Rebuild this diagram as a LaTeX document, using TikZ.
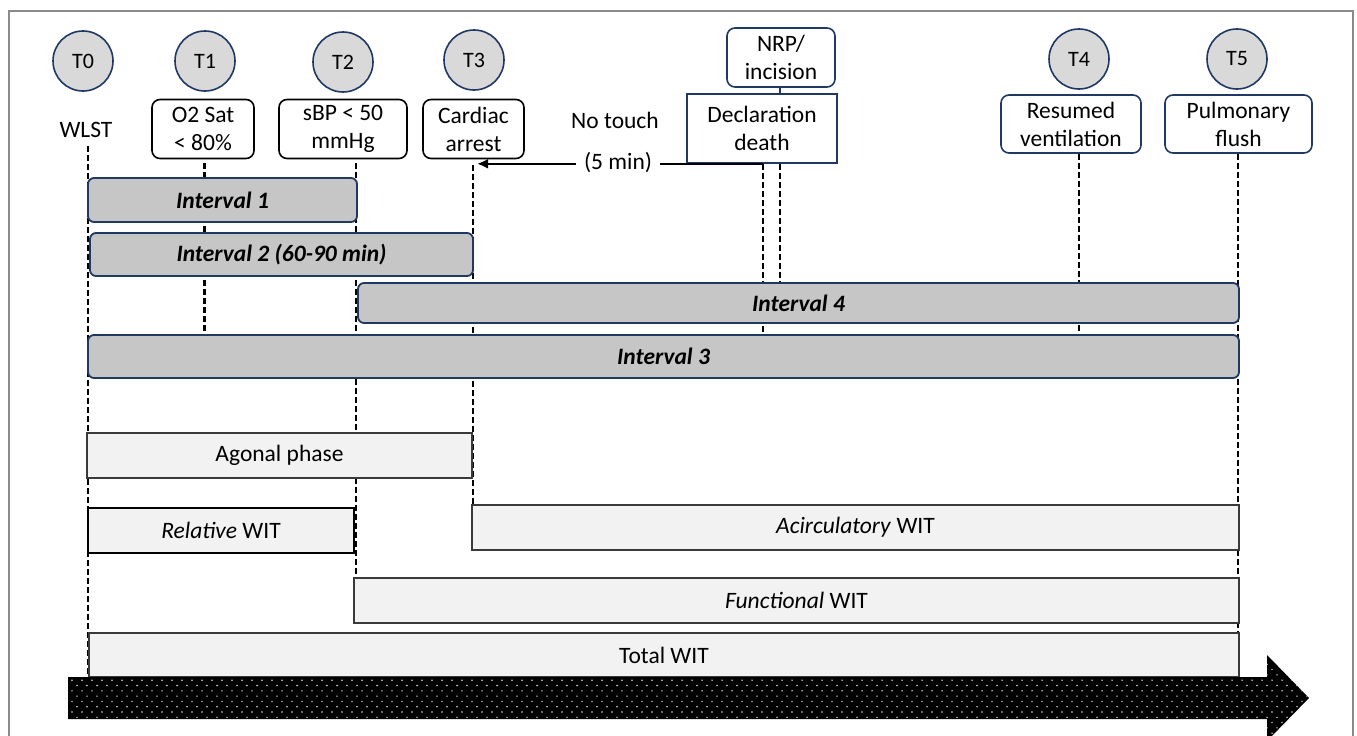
\documentclass[tikz,border=0pt]{standalone}
\usepackage{fontspec}
\setmainfont{Carlito}
\usetikzlibrary{arrows.meta,calc}
\definecolor{navy}{HTML}{1F3864}
\definecolor{circgray}{HTML}{D9D9D9}
\definecolor{intgray}{HTML}{C6C6C6}
\definecolor{witfill}{HTML}{F2F2F2}
\definecolor{witline}{HTML}{3A3A3A}
\definecolor{framec}{HTML}{8A8A8A}
\newcommand\mainfs{\fontsize{23.5}{28}\selectfont}
\begin{document}
\begin{tikzpicture}[x=1pt,y=-1pt,
  tcirc/.style={circle,draw=navy,fill=circgray,line width=1.6pt,minimum size=60pt,inner sep=0pt,font=\fontsize{22}{24}\selectfont},
  evbox/.style={rectangle,rounded corners=8pt,draw=black,line width=1.6pt,fill=white,inner sep=0pt,align=center,font=\mainfs},
  navybox/.style={evbox,draw=navy},
  intbox/.style={rectangle,rounded corners=6pt,draw=navy,line width=1.8pt,fill=intgray,inner sep=0pt,font=\mainfs\bfseries\itshape},
  witbox/.style={rectangle,draw=witline,line width=1.3pt,fill=witfill,inner sep=0pt,font=\mainfs},
  tdash/.style={line width=2.4pt,dash pattern=on 6pt off 3pt},
  plain/.style={inner sep=0pt,font=\mainfs,align=center}]
\useasboundingbox (0,0) rectangle (1357,736);
\fill[white] (0,0) rectangle (1357,736);
\draw[framec,line width=1.5pt] (9,745) -- (9,11) -- (1353,11) -- (1353,745);

% x positions of the time lines
\coordinate (x0) at (88,0);
\coordinate (x1) at (204.5,0);
\coordinate (x2) at (356,0);
\coordinate (x3) at (473,0);
\coordinate (xd) at (763,0);
\coordinate (xn) at (780,0);
\coordinate (x4) at (1079,0);
\coordinate (x5) at (1238,0);

% time point circles
\node[tcirc] (t0) at (83,61) {T0};
\node[tcirc] (t1) at (205,61) {T1};
\node[tcirc] (t2) at (343,62) {T2};
\node[tcirc] (t3) at (474,60) {T3};
\node[tcirc] (t4) at (1079,59) {T4};
\node[tcirc] (t5) at (1237,59) {T5};

% event labels
\node[plain] (wlst) at (86,130) {WLST};
\node[evbox,minimum width=102pt,minimum height=59pt] (o2) at (203,129) {O2 Sat\\< 80\%};
\node[evbox,minimum width=128pt,minimum height=59pt] (sbp) at (343,129) {sBP < 50\\mmHg};
\node[evbox,minimum width=101pt,minimum height=59pt] (card) at (473.5,129) {Cardiac\\arrest};
\node[navybox,minimum width=108pt,minimum height=59pt] (nrp) at (781,57.5) {NRP/\\incision};
\node[navybox,rounded corners=0pt,minimum width=150pt,minimum height=69pt] (decl) at (762,128.5) {Declaration\\death};
\node[navybox,minimum width=140pt,minimum height=58pt] (resum) at (1071,124) {Resumed\\ventilation};
\node[navybox,minimum width=147pt,minimum height=58pt] (pulm) at (1238.5,124) {Pulmonary\\flush};
\node[plain] (notouch) at (615,120) {No touch};

\path (222.5,200) coordinate (c1) (281.5,254.5) coordinate (c2)
      (798.5,303) coordinate (c4) (663.5,356.5) coordinate (c3);

% dashed time lines
\draw[tdash] ($(x0 |- wlst.south)+(0,8)$) -- (x0 |- 0,677);
\draw[tdash] ($(x1 |- o2.south)+(0,4)$) -- (x1 |- 0,335);
\draw[tdash] ($(x2 |- sbp.south)+(0,4)$) -- (x2 |- 0,578);
\draw[tdash] ($(x3 |- card.south)+(0,6)$) -- (x3 |- 0,505);
\draw[tdash] (xd |- decl.south) -- (xd |- 0,335);
\draw[tdash] (xn |- decl.south) -- (xn |- 0,283);
\draw[tdash] (x4 |- resum.south) -- (x4 |- 0,335);
\draw[tdash] (x5 |- pulm.south) -- (x5 |- 0,677);
\draw[navy,line width=1.6pt] (xn |- nrp.south) -- (xn |- decl.north);

% intervals
\node[intbox,minimum width=269pt,minimum height=44pt] (int1) at (c1) {Interval 1};
\node[intbox,minimum width=383pt,minimum height=43pt] (int2) at (c2) {Interval 2 (60-90 min)};
\node[intbox,minimum width=881pt,minimum height=40pt] (int4) at (c4) {Interval 4};
\node[intbox,minimum width=1151pt,minimum height=43pt] (int3) at (c3) {Interval 3};

% WIT bars
\node[witbox,minimum width=385pt,minimum height=45pt] (agonal) at (279.5,455.5) {Agonal phase};
\node[witbox,minimum width=767pt,minimum height=45pt] (acirc) at (855.5,527.5) {\textit{Acirculatory} WIT};
\node[witbox,draw=black,line width=2.4pt,minimum width=266pt,minimum height=45pt] (relwit) at (221,530.5) {\textit{Relative} WIT};
\node[witbox,minimum width=885pt,minimum height=45pt] (funcwit) at (796.5,600.5) {\textit{Functional} WIT};
\node[witbox,minimum width=1150pt,minimum height=44pt] (total) at (664,655) {Total WIT};

% no-touch arrow
\draw[line width=2.6pt,-{Latex[length=11pt,width=10pt]}] (xd |- decl.south) -- ($(x3 |- decl.south)+(4,0)$);
\node[plain,fill=white,inner xsep=8pt] (fivemin) at (618,163) {(5 min)};

% time arrow
\path[fill=black] (68,677) -- (1267,677) -- (1267,655) -- (1309,698) -- (1267,741)
  -- (1267,719) -- (68,719) -- cycle;
\begin{scope}
\clip (68,677) -- (1267,677) -- (1267,655) -- (1309,698) -- (1267,741)
  -- (1267,719) -- (68,719) -- cycle;
\foreach \r [evaluate=\r as \yy using {659+5.3*\r}, evaluate=\r as \off using {mod(\r,2)*5}] in {0,...,15}{
  \foreach \c in {0,...,125}{
    \fill[white!85!black] ({72+10*\c+\off},\yy) circle (0.8pt);
  }
}
\end{scope}
\end{tikzpicture}
\end{document}
